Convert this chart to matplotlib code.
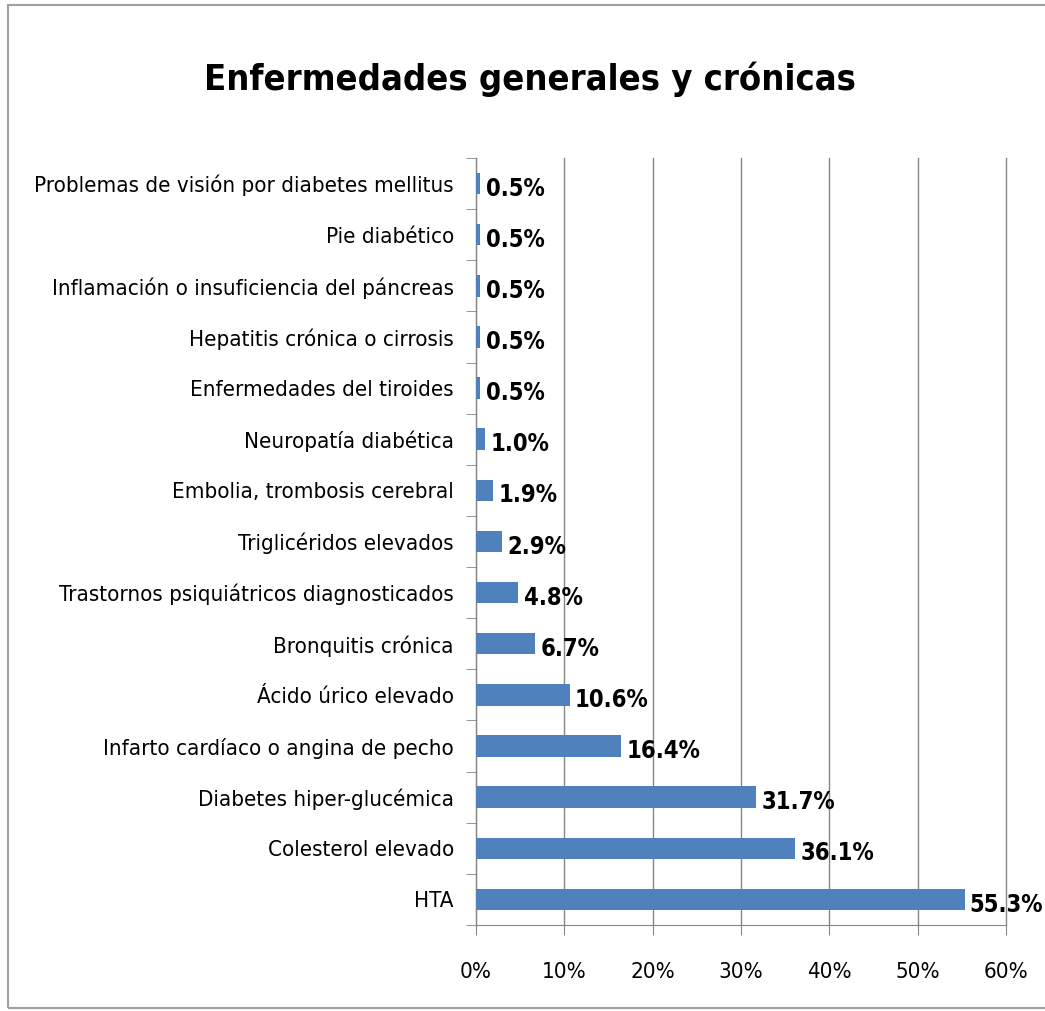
import matplotlib
matplotlib.use('Agg')
import matplotlib.pyplot as plt
from matplotlib.patches import Rectangle
from matplotlib.ticker import FuncFormatter

categories = [
    'HTA',
    'Colesterol elevado',
    'Diabetes hiper-glucémica',
    'Infarto cardíaco o angina de pecho',
    'Ácido úrico elevado',
    'Bronquitis crónica',
    'Trastornos psiquiátricos diagnosticados',
    'Triglicéridos elevados',
    'Embolia, trombosis cerebral',
    'Neuropatía diabética',
    'Enfermedades del tiroides',
    'Hepatitis crónica o cirrosis',
    'Inflamación o insuficiencia del páncreas',
    'Pie diabético',
    'Problemas de visión por diabetes mellitus',
]
values = [55.3, 36.1, 31.7, 16.4, 10.6, 6.7, 4.8, 2.9, 1.9, 1.0, 0.5, 0.5, 0.5, 0.5, 0.5]
xticks = [0, 10, 20, 30, 40, 50, 60]

plt.rcParams['font.family'] = ['DejaVu Sans']
plt.rcParams['font.stretch'] = 'condensed'

fig = plt.figure(figsize=(10.45, 10.11), dpi=100)
ax = fig.add_axes([0.4555, 0.0851, 0.5072, 0.7586])

pos = range(len(categories))
ax.barh(pos, values, height=0.42, color='#4f81bd', zorder=3)
for y, v in zip(pos, values):
    ax.text(v + 0.6, y - 0.1, f'{v:.1f}%', va='center', ha='left',
            fontsize=17, fontweight='bold', zorder=4)

ax.set_xlim(0, 60)
ax.set_ylim(-0.5, len(categories) - 0.5)
ax.set_xticks(xticks)
ax.xaxis.set_major_formatter(FuncFormatter(lambda x, p: f'{x:.0f}%'))
ax.set_yticks(list(pos))
ax.set_yticklabels(categories)
ax.set_yticks([i - 0.5 for i in range(len(categories) + 1)], minor=True)
ax.tick_params(axis='y', which='major', length=0, pad=16, labelsize=16)
ax.tick_params(axis='y', which='minor', length=7, color='#868686')
ax.tick_params(axis='x', length=7, color='#868686', labelsize=16, pad=20)
ax.grid(axis='x', color='#868686', linewidth=1, zorder=0)
for gl in ax.get_xgridlines():
    gl.set_clip_on(False)
for s in ['top', 'right']:
    ax.spines[s].set_visible(False)
for s in ['left', 'bottom']:
    ax.spines[s].set_color('#868686')

fig.text(0.507, 0.922, 'Enfermedades generales y crónicas', ha='center', va='center',
         fontsize=26, fontweight='bold')

fig.patches.append(Rectangle((8 / 1045, 3 / 1011), 1.1, 1003 / 1011, transform=fig.transFigure,
                             fill=False, edgecolor='#a0a0a0', linewidth=1.5))

fig.savefig('out.png', dpi=100)
